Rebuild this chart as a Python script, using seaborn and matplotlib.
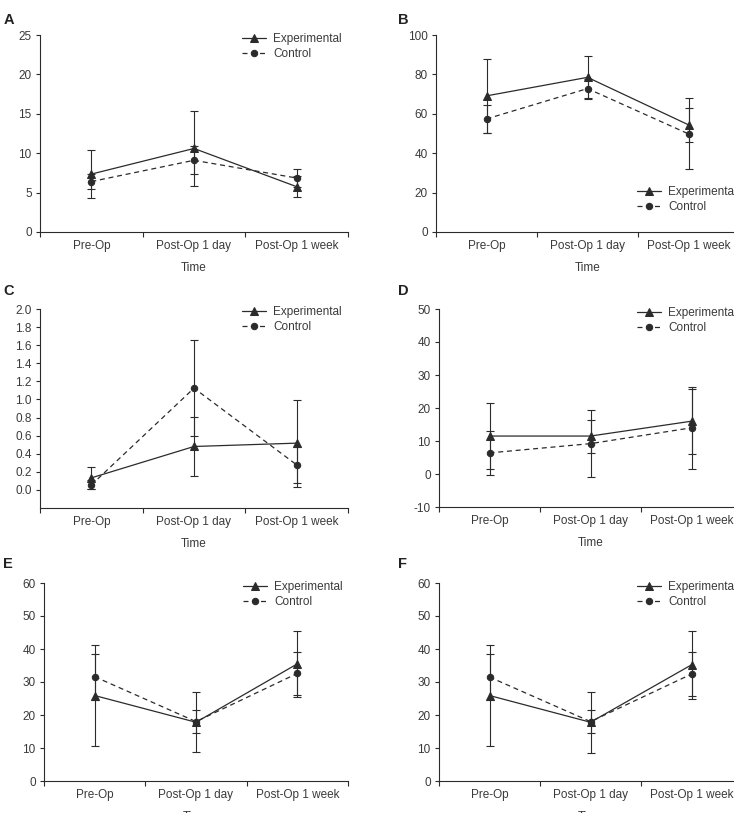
import numpy as np
import pandas as pd
import matplotlib
matplotlib.use("Agg")
import matplotlib.pyplot as plt
import seaborn as sns

# ---------------- data (mean and SD) ----------------
time_labels = ["Pre-Op", "Post-Op 1 day", "Post-Op 1 week"]

a_exp_mean = [7.35, 10.6, 5.75]
a_exp_sd = [3.0, 4.8, 1.3]
a_ctl_mean = [6.4, 9.1, 6.85]
a_ctl_sd = [1.0, 1.8, 1.1]

b_exp_mean = [69.1, 78.5, 54.4]
b_exp_sd = [18.6, 10.9, 8.6]
b_ctl_mean = [57.4, 72.8, 49.8]
b_ctl_sd = [7.2, 5.0, 18.0]

c_exp_mean = [0.133, 0.48, 0.517]
c_exp_sd = [0.125, 0.325, 0.48]
c_ctl_mean = [0.055, 1.125, 0.277]
c_ctl_sd = [0.05, 0.53, 0.2]

d_exp_mean = [11.5, 11.5, 16.0]
d_exp_sd = [10.0, 5.0, 9.9]
d_ctl_mean = [6.4, 9.2, 14.0]
d_ctl_sd = [6.7, 10.2, 12.4]

e_exp_mean = [25.9, 17.8, 35.5]
e_exp_sd = [15.3, 9.1, 10.0]
e_ctl_mean = [31.6, 18.0, 32.6]
e_ctl_sd = [7.0, 3.5, 6.6]

f_exp_mean = [25.9, 17.8, 35.2]
f_exp_sd = [15.4, 9.2, 10.3]
f_ctl_mean = [31.5, 18.0, 32.4]
f_ctl_sd = [7.0, 3.6, 6.7]

# ---------------- style ----------------
sns.set_theme(style="ticks")
plt.rcParams["font.family"] = ["Liberation Sans", "DejaVu Sans"]

W, H = 734, 813
ink = "#2b2b2b"
txt = "#3a3a3a"
fs = 8.5


def box(l, t, r, b):
    return [l / W, 1 - b / H, (r - l) / W, (b - t) / H]


fig = plt.figure(figsize=(W / 100, H / 100), dpi=100)
fig.patch.set_facecolor("white")

panels = [
    ("A", box(40, 35, 348, 232), (0, 25), np.arange(0, 26, 5), "{:.0f}",
     a_exp_mean, a_exp_sd, a_ctl_mean, a_ctl_sd, (242, 40), (4, 13)),
    ("B", box(436, 35, 739, 232), (0, 100), np.arange(0, 101, 20), "{:.0f}",
     b_exp_mean, b_exp_sd, b_ctl_mean, b_ctl_sd, (637, 193), (398, 13)),
    ("C", box(40, 309, 348, 508), (-0.2, 2.0), np.arange(0, 2.01, 0.2), "{:.1f}",
     c_exp_mean, c_exp_sd, c_ctl_mean, c_ctl_sd, (242, 313), (3, 284)),
    ("D", box(439, 309, 742, 507), (-10, 50), np.arange(-10, 51, 10), "{:.0f}",
     d_exp_mean, d_exp_sd, d_ctl_mean, d_ctl_sd, (637, 314), (398, 284)),
    ("E", box(44, 583, 348, 781), (0, 60), np.arange(0, 61, 10), "{:.0f}",
     e_exp_mean, e_exp_sd, e_ctl_mean, e_ctl_sd, (243, 588), (3, 557)),
    ("F", box(439, 583, 742, 781), (0, 60), np.arange(0, 61, 10), "{:.0f}",
     f_exp_mean, f_exp_sd, f_ctl_mean, f_ctl_sd, (637, 588), (398, 557)),
]

x = np.arange(len(time_labels))

for (letter, pos, ylim, yticks, yfmt, em, es, cm, cs, leg_xy, let_xy) in panels:
    ax = fig.add_axes(pos)
    ax.set_facecolor("white")

    df_exp = pd.DataFrame({"pos": x, "value": em})
    df_ctl = pd.DataFrame({"pos": x, "value": cm})

    # error bars (SD)
    ax.errorbar(x, em, yerr=es, fmt="none", ecolor=ink, elinewidth=0.8,
                capsize=3.2, capthick=0.8, zorder=2)
    ax.errorbar(x, cm, yerr=cs, fmt="none", ecolor=ink, elinewidth=0.8,
                capsize=3.2, capthick=0.8, zorder=2)

    sns.lineplot(data=df_exp, x="pos", y="value", ax=ax, color=ink,
                 linewidth=0.9, marker="^", markersize=5.3, markeredgecolor=ink,
                 errorbar=None, label="Experimental", zorder=3)
    sns.lineplot(data=df_ctl, x="pos", y="value", ax=ax, color=ink,
                 linewidth=0.9, linestyle=(0, (4, 3)), marker="o", markersize=4.6,
                 markeredgecolor=ink, errorbar=None, label="Control", zorder=3)

    ax.set_xlim(-0.5, 2.5)
    ax.set_ylim(*ylim)
    ax.set_xticks([-0.5, 0.5, 1.5, 2.5])
    ax.set_xticklabels([])
    ax.set_xticks(x, minor=True)
    ax.set_xticklabels(time_labels, minor=True)
    ax.tick_params(axis="x", which="major", length=3.6, width=0.8, color=ink)
    ax.tick_params(axis="x", which="minor", length=0, pad=6, labelsize=fs,
                   labelcolor=txt)
    ax.set_yticks(yticks)
    ax.set_yticklabels([yfmt.format(v) for v in yticks])
    ax.tick_params(axis="y", length=3, width=0.8, color=ink, pad=3,
                   labelsize=fs, labelcolor=txt)

    sns.despine(ax=ax)
    for s in ["left", "bottom"]:
        ax.spines[s].set_color(ink)
        ax.spines[s].set_linewidth(0.8)
    ax.spines["left"].set_bounds(ylim[0], ylim[1])

    ax.set_xlabel("Time", fontsize=fs, color=txt, labelpad=7)
    ax.set_ylabel("")

    lx, ly = leg_xy
    ax.legend(loc="upper left", bbox_to_anchor=(lx / W, 1 - (ly - 7) / H),
              bbox_transform=fig.transFigure, frameon=False, fontsize=fs,
              handlelength=2.05, handletextpad=0.6, labelspacing=0.25,
              borderpad=0, borderaxespad=0, labelcolor=txt)

    fig.text(let_xy[0] / W, 1 - let_xy[1] / H, letter, fontsize=10.5,
             fontweight="bold", color="#222222", va="top", ha="left")

fig.savefig("out.png", dpi=100, facecolor="white")
